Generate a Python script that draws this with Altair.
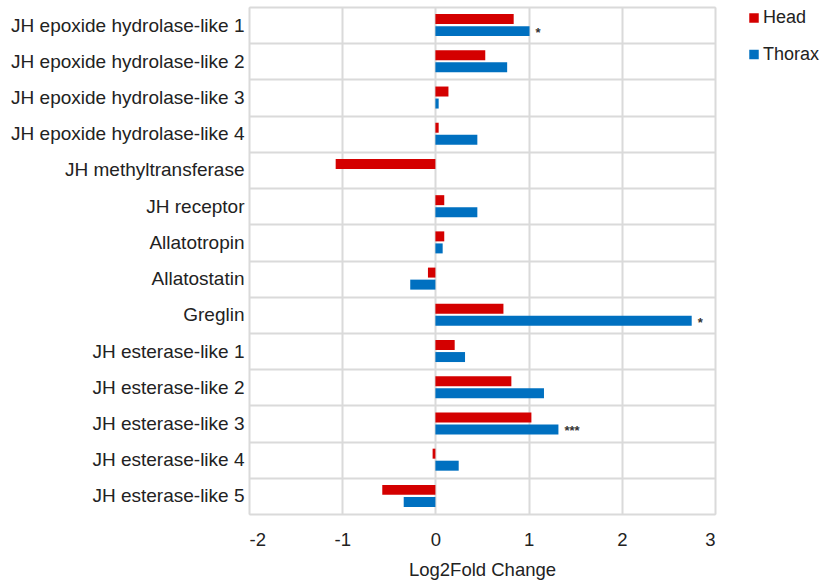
import altair as alt
import pandas as pd

genes = [
    "JH epoxide hydrolase-like 1",
    "JH epoxide hydrolase-like 2",
    "JH epoxide hydrolase-like 3",
    "JH epoxide hydrolase-like 4",
    "JH methyltransferase",
    "JH receptor",
    "Allatotropin",
    "Allatostatin",
    "Greglin",
    "JH esterase-like 1",
    "JH esterase-like 2",
    "JH esterase-like 3",
    "JH esterase-like 4",
    "JH esterase-like 5",
]
head = [0.84, 0.535, 0.14, 0.035, -1.07, 0.095, 0.095, -0.08, 0.73, 0.207, 0.815, 1.03, -0.03, -0.57]
thorax = [1.01, 0.77, 0.035, 0.45, 0.0, 0.45, 0.078, -0.27, 2.75, 0.318, 1.165, 1.32, 0.25, -0.34]
thorax_sig = ["*", "", "", "", "", "", "", "", "*", "", "", "***", "", ""]

series = ["Head", "Thorax"]
colors = ["#d40000", "#0070c0"]
x_ticks = [-2, -1, 0, 1, 2, 3]

rows = []
for g, h, t in zip(genes, head, thorax):
    rows.append({"gene": g, "series": "Head", "value": h})
    rows.append({"gene": g, "series": "Thorax", "value": t})
df = pd.DataFrame(rows)

sig = pd.DataFrame(
    [{"gene": g, "series": "Thorax", "value": t, "mark": s}
     for g, t, s in zip(genes, thorax, thorax_sig) if s]
)

FONT = "Liberation Sans"
INK = "#222222"
GRID = "#dadada"

y_enc = alt.Y(
    "gene:N",
    sort=genes,
    scale=alt.Scale(paddingInner=0, paddingOuter=0),
    axis=alt.Axis(
        title=None, grid=True, tickBand="extent", ticks=False, domain=False,
        labelFontSize=19, labelFont=FONT, labelColor=INK, labelPadding=5,
        gridColor=GRID, gridWidth=2, labelLimit=400,
    ),
)
y_off = alt.YOffset(
    "series:N",
    sort=series,
    scale=alt.Scale(paddingInner=0.17, paddingOuter=0.59),
)
x_scale = alt.Scale(domain=[-2, 3], nice=False)

bars = alt.Chart(df).mark_bar(stroke=None).encode(
    x=alt.X(
        "value:Q",
        scale=x_scale,
        axis=alt.Axis(
            title="Log2Fold Change", values=x_ticks, labelExpr="'' + datum.value",
            domain=False, ticks=False,
            labelFontSize=18.5, labelFont=FONT, labelColor=INK, labelPadding=16,
            titleFontSize=18.5, titleFont=FONT, titleFontWeight="normal", titleColor=INK,
            titlePadding=12, gridColor=GRID, gridWidth=2,
        ),
    ),
    x2=alt.datum(0),
    y=y_enc,
    yOffset=y_off,
    color=alt.Color(
        "series:N",
        sort=series,
        scale=alt.Scale(domain=series, range=colors),
        legend=alt.Legend(
            title=None, orient="none", legendX=496, legendY=2,
            symbolType="square", symbolSize=90, symbolStrokeWidth=0,
            labelFontSize=18, labelFont=FONT, labelColor=INK,
            rowPadding=18.5, labelOffset=0,
        ),
    ),
)

stars = alt.Chart(sig).mark_text(
    align="left", baseline="middle", dx=6, dy=2, fontSize=13, font=FONT,
    fontWeight="bold", color="#333333",
).encode(
    x=alt.X("value:Q", scale=x_scale),
    y=alt.Y("gene:N", sort=genes),
    yOffset=alt.YOffset("series:N", sort=series),
    text="mark:N",
)

chart = (
    alt.layer(bars, stars)
    .properties(
        width=466, height=507,
        autosize=alt.AutoSizeParams(type="none"),
        padding={"left": 249, "top": 7, "right": 108, "bottom": 71},
    )
    .configure_view(stroke=GRID, strokeWidth=2)
    .configure(background="white")
)

chart.save("out.html", embed_options={"renderer": "svg", "actions": False})
